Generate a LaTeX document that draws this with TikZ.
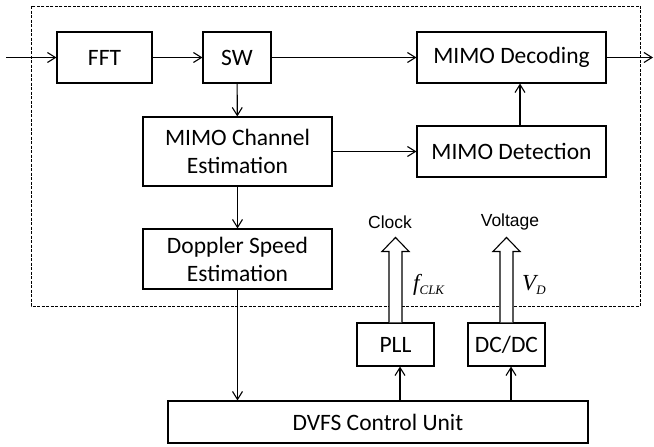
\documentclass[tikz,border=0pt]{standalone}
\usepackage{fontspec}
\setmainfont{Carlito}
\newfontfamily\arialfont{Liberation Sans}
\newfontfamily\timesfont{Liberation Serif}
\usetikzlibrary{arrows.meta,calc}
\begin{document}
\begin{tikzpicture}[x=1pt,y=-1pt,
  box/.style={draw,line width=1.1pt,align=center,inner sep=0pt,font=\fontsize{23.5}{28}\selectfont},
  arr/.style={line width=1.1pt,-{Straight Barb[length=8pt,width=10pt,line width=1.1pt]}},
  hollow/.style={draw,line width=1.1pt,fill=white},
  lab/.style={inner sep=0pt,font=\arialfont\fontsize{17.5}{20}\selectfont},
  mlab/.style={inner sep=0pt,font=\timesfont\itshape\fontsize{23}{26}\selectfont},
  frame/.style={line width=1pt,dash pattern=on 3pt off 1.5pt}]
\useasboundingbox (0,0) rectangle (654,447);
\draw[frame] (31,6) rectangle (640,306);
\node[box,minimum width=95pt,minimum height=51pt] (fft) at (104.5,57.5) {FFT};
\node[box,minimum width=68pt,minimum height=51pt] (sw) at (237,57.5) {SW};
\node[box,minimum width=189pt,minimum height=51pt] (dec) at (511.5,57.5) {MIMO Decoding};
\node[box,minimum width=189pt,minimum height=51pt] (det) at (511.5,151.5) {MIMO Detection};
\node[box,minimum width=189pt,minimum height=69pt] (mce) at (237.5,151.5) {MIMO Channel\\Estimation};
\node[box,minimum width=189pt,minimum height=60pt] (dop) at (237.5,259) {Doppler Speed\\Estimation};
\node[box,minimum width=420pt,minimum height=42pt] (dvfs) at (378,422) {DVFS Control Unit};
\node[box,minimum width=77pt,minimum height=43pt] (pll) at (395.5,344.5) {PLL};
\node[box,minimum width=77pt,minimum height=43pt] (dcdc) at (506.5,344.5) {DC/DC};
\coordinate (in) at (6,57.5);
\coordinate (out) at (653,57.5);
\draw[arr] (in) -- (fft);
\draw[arr] (fft) -- (sw);
\draw[arr] (sw) -- (dec);
\draw[arr] (dec) -- (out);
\draw[arr] (sw) -- (mce);
\draw[arr] (mce) -- (det);
\draw[arr] (mce) -- (dop);
\draw[arr] ($(det.north)+(8.5,0)$) -- ($(dec.south)+(8.5,0)$);
\draw[arr] (dop.south) -- (dop.south |- dvfs.north);
\coordinate (pa) at ($(pll.south)+(4.5,0)$);
\coordinate (da) at ($(dcdc.south)+(4.5,0)$);
\draw[arr] (pa |- dvfs.north) -- (pa);
\draw[arr] (da |- dvfs.north) -- (da);
\node[lab] (clk) at (390,222) {Clock};
\node[lab] (volt) at (510,222) {Voltage};
\draw[hollow] ($(pll.north)+(-6.5,0)$) -- ++(0,-71) -- ++(-7,0) -- ++(13.5,-14) -- ++(13.5,14) -- ++(-7,0) -- ++(0,71);
\draw[hollow] ($(dcdc.north)+(-6.5,0)$) -- ++(0,-71) -- ++(-7,0) -- ++(13.5,-14) -- ++(13.5,14) -- ++(-7,0) -- ++(0,71);
\node[mlab,anchor=base west] (fclk) at (413,290) {f\raisebox{-0.4ex}{\fontsize{13}{13}\selectfont CLK}};
\node[mlab,anchor=base west] (vd) at (522,290) {V\raisebox{-0.4ex}{\fontsize{13}{13}\selectfont D}};
\end{tikzpicture}
\end{document}
